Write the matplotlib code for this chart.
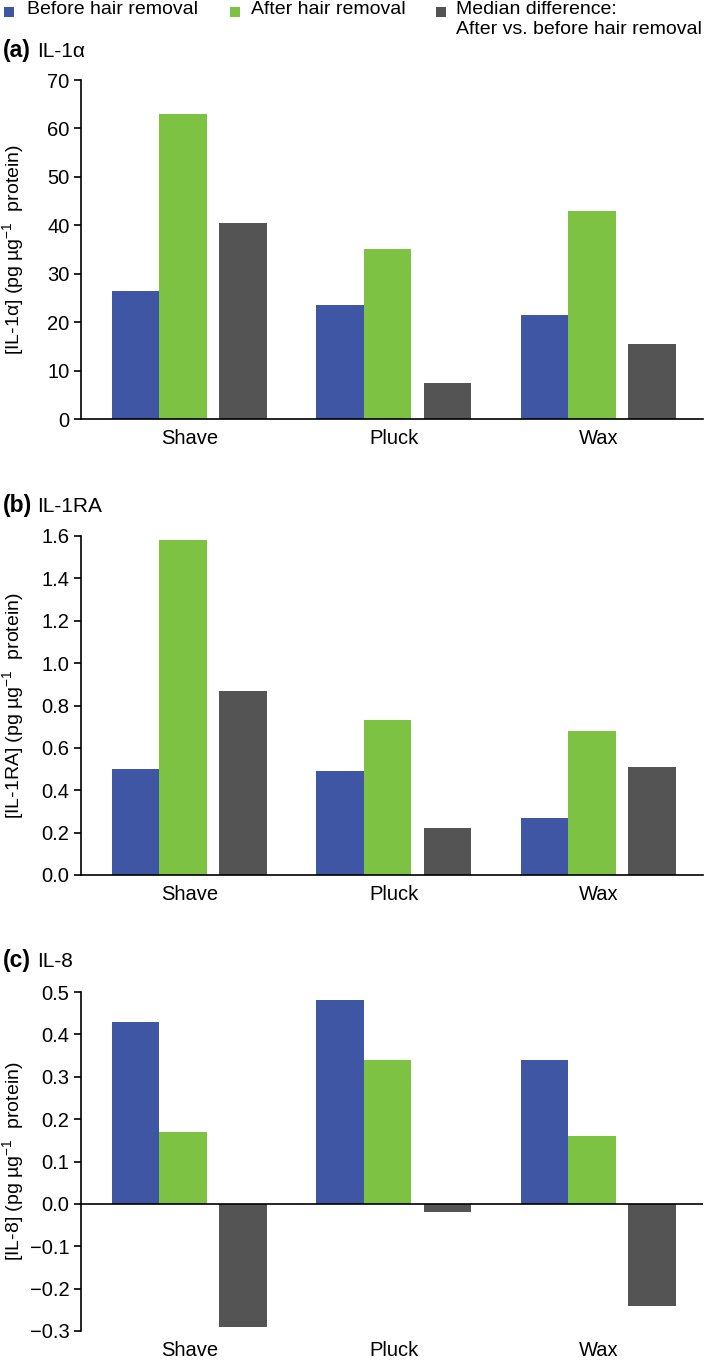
import numpy as np
import matplotlib
matplotlib.use("Agg")
import matplotlib.pyplot as plt
from matplotlib.patches import Rectangle

plt.rcParams['font.family'] = ['Liberation Sans', 'DejaVu Sans']
plt.rcParams['mathtext.fontset'] = 'custom'
plt.rcParams['mathtext.rm'] = 'Liberation Sans'
plt.rcParams['mathtext.it'] = 'Liberation Sans:italic'

# data
methods = ['Shave', 'Pluck', 'Wax']
series_names = ['Before hair removal', 'After hair removal',
                'Median difference:\nAfter vs. before hair removal']
colors = ['#3F56A5', '#7DC242', '#545455']

il1a_before = [26.5, 23.5, 21.4]
il1a_after = [63.0, 35.1, 43.0]
il1a_diff = [40.4, 7.4, 15.5]

il1ra_before = [0.50, 0.49, 0.27]
il1ra_after = [1.58, 0.73, 0.68]
il1ra_diff = [0.87, 0.22, 0.51]

il8_before = [0.43, 0.48, 0.34]
il8_after = [0.17, 0.34, 0.16]
il8_diff = [-0.29, -0.02, -0.24]

panel_letters = ['(a)', '(b)', '(c)']
panel_names = ['IL-1\u03b1', 'IL-1RA', 'IL-8']
ylabels = ['[IL-1\u03b1] (pg \u00b5g$^{-1}$  protein)',
           '[IL-1RA] (pg \u00b5g$^{-1}$  protein)',
           '[IL-8] (pg \u00b5g$^{-1}$  protein)']
ylims = [(0, 70), (0, 1.6), (-0.3, 0.5)]
yticks = [np.arange(0, 71, 10), np.arange(0, 1.61, 0.2), np.arange(-0.3, 0.51, 0.1)]
tick_fmt = ['{:.0f}', '{:.1f}', '{:.1f}']

all_data = [[il1a_before, il1a_after, il1a_diff],
            [il1ra_before, il1ra_after, il1ra_diff],
            [il8_before, il8_after, il8_diff]]

W, H = 709, 1362
fig = plt.figure(figsize=(W / 100, H / 100), dpi=100)

# axes boxes in pixels: (left, top, right, bottom)
boxes = [(80.7, 80, 703, 419), (80.7, 536, 703, 875), (80.7, 992, 703, 1331)]
title_base = [57, 512, 967]

offsets = [-0.264, -0.032, 0.262]
bar_w = 0.233
x = np.arange(len(methods))

for i in range(3):
    l, t, r, b = boxes[i]
    ax = fig.add_axes([l / W, 1 - b / H, (r - l) / W, (b - t) / H])
    for k in range(3):
        ax.bar(x + offsets[k], all_data[i][k], width=bar_w, color=colors[k],
               edgecolor='none', zorder=2)
    ax.set_xlim(-0.532, 2.511)
    ax.set_ylim(*ylims[i])
    ax.set_yticks(yticks[i])
    ax.set_yticklabels([tick_fmt[i].format(v).replace('-', '\u2212') if abs(v) > 1e-9
                        else tick_fmt[i].format(0) for v in yticks[i]])
    ax.set_xticks(x)
    ax.set_xticklabels(methods)
    for s in ['top', 'right']:
        ax.spines[s].set_visible(False)
    ax.spines['left'].set_linewidth(1.2)
    ax.spines['bottom'].set_linewidth(1.2)
    if ylims[i][0] < 0:
        ax.spines['bottom'].set_visible(False)
        ax.axhline(0, color='black', lw=1.2, zorder=3)
    ax.tick_params(axis='y', direction='out', length=5, width=1.2, labelsize=14.5, pad=3)
    ax.tick_params(axis='x', length=0, labelsize=14.5, pad=7)
    ax.set_ylabel(ylabels[i], fontsize=14)
    ax.yaxis.set_label_coords(-0.088, 0.5)

    fig.text(3 / W, 1 - title_base[i] / H, panel_letters[i], fontsize=16.5,
             fontweight='bold', va='baseline', ha='left')
    fig.text(37 / W, 1 - title_base[i] / H, panel_names[i], fontsize=15,
             va='baseline', ha='left')

# legend across the top
leg_sq = [4, 230, 436]
leg_tx = [27, 251, 456]
for k in range(3):
    fig.patches.append(Rectangle((leg_sq[k] / W, 1 - 17 / H), 10 / W, 10 / H,
                                 transform=fig.transFigure, facecolor=colors[k],
                                 edgecolor='none'))
    fig.text(leg_tx[k] / W, 1 - 1 / H, series_names[k], fontsize=14,
             va='top', ha='left', linespacing=1.2)

fig.savefig('out.png', dpi=100)
